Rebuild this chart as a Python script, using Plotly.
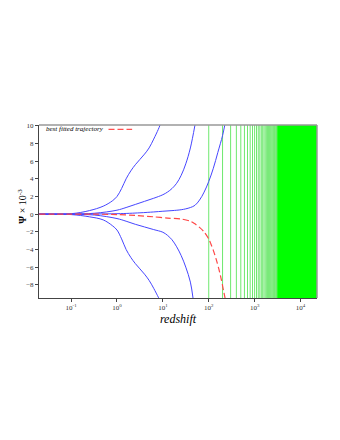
import plotly.graph_objects as go

# redshift / psi (x 1e-3)
z_a = [0.02, 0.1, 0.25, 0.5, 0.79, 1.0, 1.26, 1.58, 2.0, 2.51, 3.16, 3.98, 5.01, 6.31, 7.94, 8.7]
psi_a = [0, 0.05, 0.4, 0.9, 1.5, 2.0, 2.9, 4.0, 4.9, 5.6, 6.2, 6.8, 7.5, 8.5, 9.6, 10.1]

z_b = [0.02, 0.1, 0.32, 1.0, 1.58, 2.51, 3.98, 6.31, 10, 12.6, 15.8, 20, 25.1, 31.6, 39.8, 50.1]
psi_b = [0, 0.02, 0.1, 0.45, 0.75, 1.1, 1.45, 1.8, 2.2, 2.5, 2.9, 3.5, 4.4, 5.7, 7.5, 10.1]

z_c = [0.02, 1.0, 3.16, 6.31, 10, 15.8, 25.1, 31.6, 39.8, 50.1, 63.1, 79.4, 100, 126, 158, 200, 224]
psi_c = [0, 0.05, 0.15, 0.25, 0.33, 0.4, 0.5, 0.6, 0.75, 1.0, 1.6, 2.5, 3.7, 5.2, 7.0, 8.9, 10.1]

z_d = [0.02, 0.1, 0.25, 0.5, 0.79, 1.0, 1.26, 1.58, 2.0, 2.51, 3.16, 3.98, 5.01, 6.31, 7.94, 8.3]
psi_d = [0, -0.05, -0.3, -0.65, -1.3, -1.8, -2.8, -4.0, -4.9, -5.6, -6.2, -6.8, -7.5, -8.4, -9.4, -9.6]

z_e = [0.02, 0.1, 0.32, 1.0, 1.58, 2.51, 3.98, 6.31, 10, 12.6, 15.8, 20, 25.1, 31.6, 39.8, 45.7]
psi_e = [0, -0.02, -0.1, -0.5, -0.8, -1.15, -1.45, -1.75, -2.05, -2.4, -2.9, -3.7, -4.7, -6.0, -7.7, -9.6]

z_fit = [0.02, 0.3, 1.0, 2.5, 6.3, 12.6, 25, 40, 50, 63, 79, 100, 112, 126, 145, 166, 186, 209, 229]
psi_fit = [0, 0, -0.05, -0.15, -0.3, -0.45, -0.55, -0.8, -1.1, -1.5, -2.0, -2.8, -3.4, -4.1, -5.1, -6.2, -7.3, -8.6, -9.6]

# green marker lines, every 100 in redshift, then a saturated band
green_z = [100, 200, 300, 400, 500, 600, 700, 800, 900, 1000,
           1100, 1200, 1300, 1400, 1500, 1600, 1700, 1800, 1900, 2000,
           2100, 2200, 2300, 2400, 2500, 2600, 2700, 2800, 2900, 3000]
green_band = [3100, 23000]

x_ticks = [0.1, 1, 10, 100, 1000, 10000]
x_ticktext = ["10<sup>-1</sup>", "10<sup>0</sup>", "10<sup>1</sup>",
              "10<sup>2</sup>", "10<sup>3</sup>", "10<sup>4</sup>"]
y_ticks = [-8, -6, -4, -2, 0, 2, 4, 6, 8, 10]

y_lo, y_hi = -9.5, 10.1

fig = go.Figure()

gx, gy = [], []
for v in green_z:
    gx += [v, v, None]
    gy += [y_lo, y_hi, None]
fig.add_trace(go.Scatter(x=gx, y=gy, mode="lines",
                         line=dict(color="rgb(110,232,110)", width=1),
                         showlegend=False, hoverinfo="skip"))
fig.add_trace(go.Scatter(x=[green_band[0], green_band[1], green_band[1], green_band[0]],
                         y=[y_lo, y_lo, y_hi, y_hi], fill="toself", mode="none",
                         fillcolor="rgb(0,255,0)", showlegend=False, hoverinfo="skip"))

for zz, pp in [(z_a, psi_a), (z_b, psi_b), (z_c, psi_c), (z_d, psi_d), (z_e, psi_e)]:
    fig.add_trace(go.Scatter(x=zz, y=pp, mode="lines",
                             line=dict(color="rgb(70,70,255)", width=1, shape="spline", smoothing=1),
                             showlegend=False))

fig.add_trace(go.Scatter(x=z_fit, y=psi_fit, mode="lines",
                         line=dict(color="rgb(255,70,70)", width=1.2, dash="6px,3px",
                                   shape="spline", smoothing=0.8),
                         showlegend=False))

# legend drawn by hand: text first, dashed sample after
fig.add_annotation(x=0.018, y=0.977, xref="paper", yref="paper", xanchor="left", yanchor="middle",
                   text="<i>best fitted trajectory</i>", showarrow=False,
                   font=dict(family="Liberation Serif", size=7, color="black"))
fig.add_shape(type="line", xref="paper", yref="paper", x0=0.25, x1=0.335, y0=0.975, y1=0.975,
              line=dict(color="rgb(255,80,80)", width=1.3, dash="6px,3px"))

# y title placed by hand, closer to the tick labels
fig.add_annotation(x=-0.06, y=0.53, xref="paper", yref="paper", xanchor="center", yanchor="middle",
                   text="<b>Ψ</b> × 10<sup>-3</sup>", textangle=-90, showarrow=False,
                   font=dict(family="Liberation Serif", size=10, color="black"))

# grey top / right frame
fig.add_shape(type="line", xref="paper", yref="paper", x0=0, x1=1, y0=1, y1=1,
              line=dict(color="#999999", width=1.5))
fig.add_shape(type="line", xref="paper", yref="paper", x0=1, x1=1, y0=0, y1=1,
              line=dict(color="#999999", width=1.5))

fig.update_xaxes(
    type="log",
    range=[-1.7, 4.36],
    tickvals=x_ticks,
    ticktext=x_ticktext,
    ticks="outside",
    ticklen=3,
    showline=True,
    linecolor="#444444",
    showgrid=False,
    zeroline=False,
    automargin=False,
    tickfont=dict(family="Liberation Serif", size=7, color="#333333"),
    title=dict(text="<i>redshift</i>", font=dict(family="Liberation Serif", size=12, color="black"),
               standoff=0),
)
fig.update_yaxes(
    range=[y_lo, y_hi],
    tickvals=y_ticks,
    ticks="outside",
    ticklen=3,
    showline=True,
    linecolor="#444444",
    showgrid=False,
    zeroline=False,
    automargin=False,
    tickfont=dict(family="Liberation Serif", size=7, color="#333333"),
)
fig.update_layout(
    width=340,
    height=440,
    margin=dict(l=31, r=31, t=117, b=150),
    plot_bgcolor="white",
    paper_bgcolor="white",
    font_color="black",
    showlegend=False,
)
fig.write_html("out.html")
